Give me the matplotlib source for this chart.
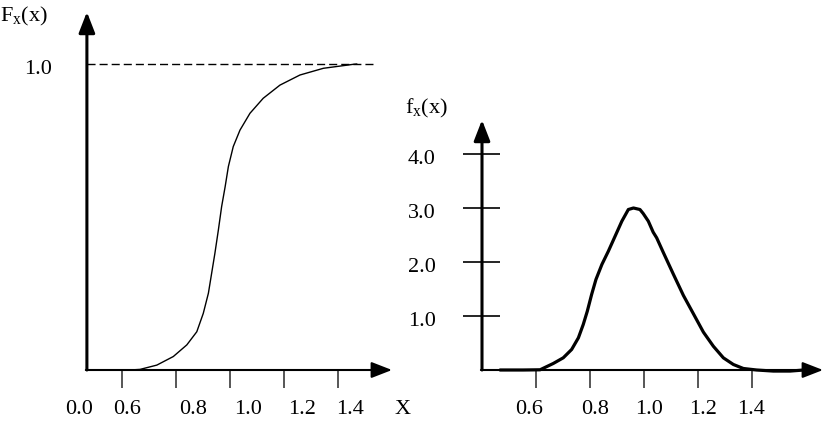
import matplotlib
matplotlib.use('Agg')
import matplotlib.pyplot as plt
from matplotlib.transforms import offset_copy

plt.rcParams['font.family'] = ['Liberation Serif', 'DejaVu Serif']
plt.rcParams['mathtext.fontset'] = 'custom'
plt.rcParams['mathtext.rm'] = 'Liberation Serif'
plt.rcParams['mathtext.it'] = 'Liberation Serif:italic'

# ---------------- data ----------------
cdf_x = [0.470, 0.556, 0.630, 0.667, 0.729, 0.790, 0.840, 0.877, 0.901, 0.920,
         0.932, 0.944, 0.957, 0.969, 0.982, 0.994, 1.012, 1.037, 1.074, 1.123,
         1.185, 1.259, 1.346, 1.457, 1.470]
cdf_y = [0.000, 0.000, 0.000, 0.002, 0.016, 0.044, 0.082, 0.125, 0.185, 0.251,
         0.316, 0.381, 0.458, 0.534, 0.599, 0.665, 0.730, 0.784, 0.839, 0.888,
         0.931, 0.964, 0.986, 0.999, 1.000]

pdf_x = [0.467, 0.553, 0.615, 0.664, 0.701, 0.732, 0.757, 0.775, 0.790, 0.806,
         0.822, 0.844, 0.868, 0.893, 0.918, 0.942, 0.961, 0.985, 0.997, 1.016,
         1.034, 1.047, 1.071, 1.108, 1.146, 1.183, 1.220, 1.257, 1.294, 1.331,
         1.368, 1.417, 1.479, 1.541, 1.603]
pdf_y = [0.000, 0.000, 0.004, 0.121, 0.226, 0.380, 0.596, 0.843, 1.089, 1.398,
         1.676, 1.954, 2.200, 2.478, 2.756, 2.972, 3.000, 2.972, 2.898, 2.756,
         2.552, 2.447, 2.182, 1.782, 1.380, 1.041, 0.701, 0.439, 0.225, 0.102,
         0.028, 0.000, -0.020, -0.020, 0.004]

x_ticks = [0.6, 0.8, 1.0, 1.2, 1.4]
left_xtick_labels = ['0.0', '0.6', '0.8', '1.0', '1.2', '1.4']
left_xlabel_pos = [0.441, 0.6185, 0.863, 1.067, 1.267, 1.444]
right_xtick_labels = ['0.6', '0.8', '1.0', '1.2', '1.4']
right_xlabel_pos = [0.574, 0.8185, 1.0185, 1.2185, 1.396]
pdf_yticks = [1.0, 2.0, 3.0, 4.0]
pdf_ytick_labels = ['1.0', '2.0', '3.0', '4.0']
cdf_level = 1.0
cdf_level_label = '1.0'

FS = 16
W, H = 832, 438
fig = plt.figure(figsize=(W / 100, H / 100), dpi=100)

arrow_kw = dict(arrowstyle='-|>,head_length=0.9,head_width=0.35', color='k',
                shrinkA=0, shrinkB=0, mutation_scale=14)
curve_kw = dict(color='k', solid_joinstyle='round', solid_capstyle='round')

# ---------------- left panel: CDF ----------------
ax1 = fig.add_axes([0, 0, 420 / W, 1])
ax1.set_xlim(0.6 - 122 / 270, 0.6 + 298 / 270)
ax1.set_ylim((370 - 438) / 306, 370 / 306)
ax1.axis('off')

ox1 = cdf_x[0]
ax1.annotate('', xy=(ox1, 1.17), xytext=(ox1, 0),
             arrowprops=dict(lw=2.2, **arrow_kw), annotation_clip=False)
ax1.annotate('', xy=(1.60, 0), xytext=(ox1 - 0.004, 0),
             arrowprops=dict(lw=1.5, **arrow_kw), annotation_clip=False)

for t in x_ticks:
    ax1.plot([t, t], [0, -0.0588], color='#3a3a3a', lw=1.2, solid_capstyle='butt')

ax1.plot([ox1, 1.537], [cdf_level, cdf_level], color='k', lw=1.0, dashes=(5.8, 2.9))
ax1.plot(cdf_x, cdf_y, lw=1.0, **curve_kw)

lab_tr1 = offset_copy(ax1.transData, fig=fig, x=0, y=-4.0, units='points')
for p, s in zip(left_xlabel_pos, left_xtick_labels):
    ax1.text(p, -0.1307, s, ha='center', va='center', fontsize=FS)
ax1.text(1.641, -0.1307, 'X', ha='center', va='center', fontsize=FS)
ax1.text(0.6 + (38 - 122) / 270, cdf_level, cdf_level_label, ha='center', va='center',
         fontsize=FS, transform=lab_tr1)
ax1.text(0.6 + (0 - 122) / 270, (370 - 16) / 306, r'F$_{\mathregular{x}}$(x)',
         ha='left', va='center', fontsize=FS)

# ---------------- right panel: PDF ----------------
ax2 = fig.add_axes([420 / W, 0, 412 / W, 1])
ax2.set_xlim(0.6 + (420 - 536) / 270, 0.6 + (832 - 536) / 270)
ax2.set_ylim((370 - 438) / 54, 370 / 54)
ax2.axis('off')

ox2 = 0.4
ax2.annotate('', xy=(ox2, 4.63), xytext=(ox2, 0),
             arrowprops=dict(lw=2.2, **arrow_kw), annotation_clip=False)
ax2.annotate('', xy=(1.663, 0), xytext=(ox2 - 0.004, 0),
             arrowprops=dict(lw=1.5, **arrow_kw), annotation_clip=False)

for t in x_ticks:
    ax2.plot([t, t], [0, -0.333], color='#3a3a3a', lw=1.2, solid_capstyle='butt')
for t in pdf_yticks:
    ax2.plot([ox2 - 19 / 270, ox2 + 18 / 270], [t, t], color='k', lw=1.2,
             solid_capstyle='butt')

ax2.plot(pdf_x, pdf_y, lw=2.3, **curve_kw)

lab_tr2 = offset_copy(ax2.transData, fig=fig, x=0, y=-4.0, units='points')
for p, s in zip(right_xlabel_pos, right_xtick_labels):
    ax2.text(p, -40 / 54, s, ha='center', va='center', fontsize=FS)
for t, s in zip(pdf_yticks, pdf_ytick_labels):
    ax2.text(0.6 + (422 - 536) / 270, t, s, ha='center', va='center', fontsize=FS,
             transform=lab_tr2)
ax2.text(0.6 + (405 - 536) / 270, (370 - 108) / 54, r'f$_{\mathregular{x}}$(x)',
         ha='left', va='center', fontsize=FS)

fig.savefig('out.png', dpi=100)
